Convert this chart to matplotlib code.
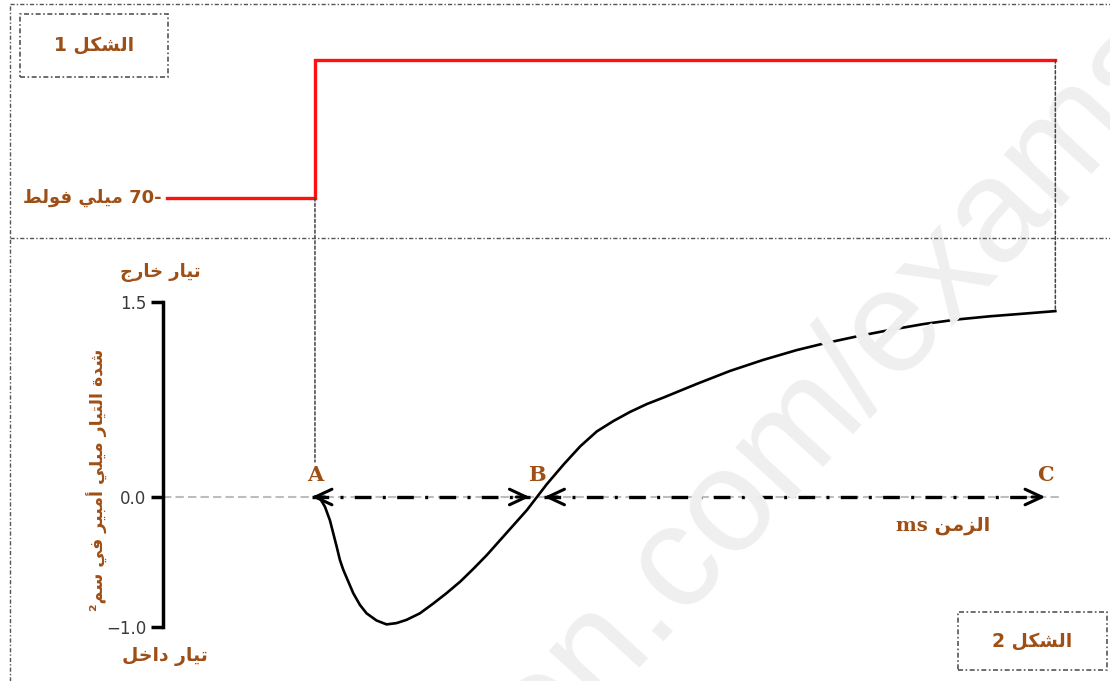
import re
import numpy as np
import matplotlib
matplotlib.use('Agg')
import matplotlib.pyplot as plt
from matplotlib.lines import Line2D
from matplotlib.patches import Rectangle, ConnectionPatch

# current trace (figure 2), time in ms after the step, current in mA/cm2
time_ms = [0.0, 0.045, 0.09, 0.135, 0.165, 0.195, 0.225, 0.255, 0.30, 0.345, 0.405, 0.465,
           0.555, 0.645, 0.735, 0.825, 0.945, 1.065, 1.185, 1.31, 1.43, 1.55, 1.67, 1.79,
           1.91, 2.0, 2.09, 2.24, 2.39, 2.54, 2.69, 2.84, 2.99, 3.14, 3.44, 3.74, 4.04,
           4.34, 4.58, 4.88, 5.18, 5.48, 5.78, 6.08, 6.38, 6.67]
current = [0.0, -0.01, -0.075, -0.18, -0.28, -0.38, -0.485, -0.56, -0.65, -0.74, -0.83, -0.895,
           -0.95, -0.98, -0.97, -0.945, -0.895, -0.82, -0.74, -0.65, -0.55, -0.445, -0.33, -0.215,
           -0.10, 0.0, 0.10, 0.25, 0.39, 0.505, 0.585, 0.655, 0.715, 0.765, 0.87, 0.97, 1.055,
           1.13, 1.18, 1.235, 1.285, 1.33, 1.365, 1.39, 1.41, 1.43]

# imposed potential (figure 1)
step_t = [-1.333, 0.0, 0.0, 6.67]
step_mv = [-70, -70, 0, 0]

# points A, B, C on the time axis
point_names = ['A', 'B', 'C']
point_t = [0.0, 2.0, 6.58]

yticks = [-1.0, 0.0, 1.5]

BROWN = '#9e4f16'

# arabic letters -> (isolated, final, initial, medial)
FORMS = {
    'ا': ('\uFE8D', '\uFE8E', None, None),
    'أ': ('\uFE83', '\uFE84', None, None),
    'ب': ('\uFE8F', '\uFE90', '\uFE91', '\uFE92'),
    'ة': ('\uFE93', '\uFE94', None, None),
    'ت': ('\uFE95', '\uFE96', '\uFE97', '\uFE98'),
    'ج': ('\uFE9D', '\uFE9E', '\uFE9F', '\uFEA0'),
    'خ': ('\uFEA5', '\uFEA6', '\uFEA7', '\uFEA8'),
    'د': ('\uFEA9', '\uFEAA', None, None),
    'ر': ('\uFEAD', '\uFEAE', None, None),
    'ز': ('\uFEAF', '\uFEB0', None, None),
    'س': ('\uFEB1', '\uFEB2', '\uFEB3', '\uFEB4'),
    'ش': ('\uFEB5', '\uFEB6', '\uFEB7', '\uFEB8'),
    'ط': ('\uFEC1', '\uFEC2', '\uFEC3', '\uFEC4'),
    'ف': ('\uFED1', '\uFED2', '\uFED3', '\uFED4'),
    'ك': ('\uFED9', '\uFEDA', '\uFEDB', '\uFEDC'),
    'ل': ('\uFEDD', '\uFEDE', '\uFEDF', '\uFEE0'),
    'م': ('\uFEE1', '\uFEE2', '\uFEE3', '\uFEE4'),
    'ن': ('\uFEE5', '\uFEE6', '\uFEE7', '\uFEE8'),
    'و': ('\uFEED', '\uFEEE', None, None),
    'ي': ('\uFEF1', '\uFEF2', '\uFEF3', '\uFEF4'),
}


def ar(s):
    # matplotlib has no shaping/bidi: join letters by hand and reverse
    out = []
    for i, c in enumerate(s):
        if c not in FORMS:
            out.append(c)
            continue
        prev = s[i - 1] if i > 0 else ''
        nxt = s[i + 1] if i + 1 < len(s) else ''
        jp = prev in FORMS and FORMS[prev][2] is not None
        jn = nxt in FORMS and FORMS[c][2] is not None
        iso, fin, ini, med = FORMS[c]
        if jp and jn:
            out.append(med)
        elif jp:
            out.append(fin)
        elif jn:
            out.append(ini)
        else:
            out.append(iso)
    vis = ''.join(out)[::-1]
    return re.sub(r'[A-Za-z0-9.]+', lambda m: m.group(0)[::-1], vis)


def fx(px):
    return px / 1110.0


def fy(py):
    return 1 - py / 681.0


fig = plt.figure(figsize=(11.1, 6.81), dpi=100)

# watermark: place the string so that the '.' of '.com' sits at (667, 631) px
wm = dict(fontsize=105, family='Liberation Sans')
renderer = fig.canvas.get_renderer()
probe = fig.text(0, 0, 'ency-education', **wm)
w_pre = probe.get_window_extent(renderer).width
probe.set_text('.')
w_dot = probe.get_window_extent(renderer).width
probe.remove()
ang = np.deg2rad(47.5)
d = w_pre + w_dot / 2
fig.text(fx(667 - d * np.cos(ang)), fy(631 + d * np.sin(ang)), 'ency-education.com/exams',
         rotation=47.5, rotation_mode='anchor', ha='left', va='baseline', color='#efefef',
         zorder=0, **wm)

tmin, tmax = -1.369, 6.712

# bottom panel: membrane current
ax = fig.add_axes([fx(163), fy(627), fx(1060) - fx(163), fy(302) - fy(627)])
ax.set_xlim(tmin, tmax)
ax.set_ylim(-1.0, 1.5)
ax.patch.set_alpha(0)
for side in ['top', 'right', 'bottom']:
    ax.spines[side].set_visible(False)
ax.spines['left'].set_linewidth(2.5)
ax.set_xticks([])
ax.set_yticks(yticks)
ax.tick_params(axis='y', length=9, width=2.5, labelsize=12, labelcolor='#3a3a3a', pad=3)
ax.axhline(0, color='#bdbdbd', lw=1.5, ls=(0, (4, 2)), zorder=1)
ax.plot(time_ms, current, color='black', lw=1.9, solid_joinstyle='round', zorder=3)

# dash-dot double arrows A<->B and B<->C
gap = 0.065
segs = [(point_t[0] - 0.03, point_t[1] - gap), (point_t[1] + gap, point_t[2])]
for t0, t1 in segs:
    ax.plot([t0, t1], [0, 0], color='black', lw=2.4, ls=(0, (5, 3.4, 0.9, 3.4)),
            solid_capstyle='butt', dash_capstyle='butt', zorder=2)
    for tip, back in [(t0, t0 + 0.12), (t1, t1 - 0.12)]:
        ax.annotate('', xy=(tip, 0), xytext=(back, 0),
                    arrowprops=dict(arrowstyle='->,head_length=0.6,head_width=0.28',
                                    mutation_scale=20, lw=2.2, color='black',
                                    shrinkA=0, shrinkB=0), zorder=4)

for name, t in zip(point_names, point_t):
    ax.annotate(name, xy=(t, 0), xytext=(0, 16), textcoords='offset points',
                ha='center', va='center', fontsize=15, fontweight='bold',
                family='DejaVu Serif', color=BROWN)

# top panel: imposed voltage
ax_top = fig.add_axes([fx(163), fy(238), fx(1060) - fx(163), fy(4) - fy(238)])
ax_top.set_xlim(tmin, tmax)
ax_top.set_ylim(-90.29, 28.41)
ax_top.axis('off')
ax_top.plot(step_t, step_mv, color='#ff1010', lw=2.4, solid_joinstyle='miter', zorder=3)

# dotted guides between the panels
for t, ytop, ybot in [(0.0, -70, 0.27), (6.67, 0, 1.43)]:
    con = ConnectionPatch(xyA=(t, ytop), coordsA=ax_top.transData,
                          xyB=(t, ybot), coordsB=ax.transData,
                          color='#444444', lw=1.1, ls=(0, (2, 1.5)), zorder=1)
    fig.add_artist(con)

# page frame (dash-dot)
frame = dict(color='#555555', lw=1.0, ls=(0, (3, 1.5, 1, 1.5)), transform=fig.transFigure)
fig.add_artist(Line2D([fx(10), 1], [fy(4), fy(4)], **frame))
fig.add_artist(Line2D([fx(10), fx(10)], [0, fy(4)], **frame))
fig.add_artist(Line2D([fx(10), 1], [fy(238), fy(238)], **frame))

# figure label boxes
for (x0, y0, x1, y1), lab in [((20, 14, 168, 77), 'الشكل 1'), ((958, 612, 1107, 670), 'الشكل 2')]:
    fig.add_artist(Rectangle((fx(x0), fy(y1)), fx(x1) - fx(x0), fy(y0) - fy(y1),
                             fill=False, ec='#555555', lw=1.2, ls=(0, (3, 1.5, 1, 1.5)),
                             transform=fig.transFigure))
    fig.text(fx((x0 + x1) / 2), fy((y0 + y1) / 2), ar(lab), ha='center', va='center',
             fontsize=13.5, fontweight='bold', color=BROWN)

txt = dict(fontweight='bold', color=BROWN)
fig.text(fx(162), fy(198), ar('-70 ميلي فولط'), ha='right', va='center', fontsize=13, **txt)
fig.text(fx(160), fy(272), ar('تيار خارج'), ha='center', va='center', fontsize=13, **txt)
fig.text(fx(165), fy(657), ar('تيار داخل'), ha='center', va='center', fontsize=13.5, **txt)
fig.text(fx(97), fy(480), ar('شدة التيار ميلي أمبير في سم²'), rotation=90,
         ha='center', va='center', fontsize=12.5, **txt)
fig.text(fx(943), fy(526), ar('الزمن ms'), ha='center', va='center', fontsize=14,
         family=['DejaVu Serif', 'DejaVu Sans'], **txt)

fig.savefig('out.png', dpi=100, facecolor='white')
